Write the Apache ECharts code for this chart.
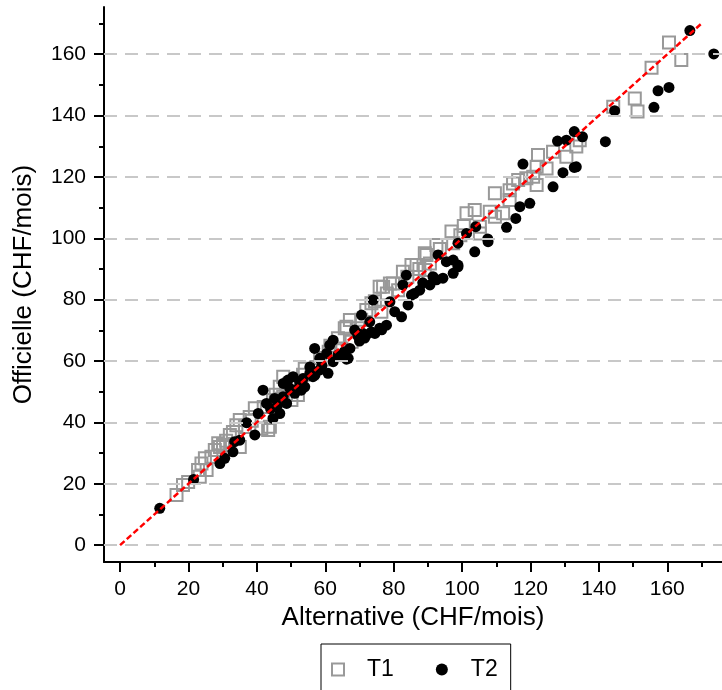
<!DOCTYPE html>
<html>
<head>
<meta charset="utf-8">
<script src="https://cdn.jsdelivr.net/npm/echarts@6/dist/echarts.min.js"></script>
<style>
html,body{margin:0;padding:0;background:#fff;}
#chart{width:722px;height:690px;}
</style>
</head>
<body>
<div id="chart"></div>
<script>
// ---- data ----
const seriesNames = ['T1', 'T2'];
const xTitle = 'Alternative (CHF/mois)';
const yTitle = 'Officielle (CHF/mois)';
const majorTicks = [0, 20, 40, 60, 80, 100, 120, 140, 160];
const minorTicks = [10, 30, 50, 70, 90, 110, 130, 150, 170];
const xRange = [-4.7, 176];
const yRange = [-5.5, 175.4];
const refX = [0, 170];
const refY = [0, 170];

const t1 = [
  [16.5,16.3],[18.4,19.6],[19.9,20.6],[23.3,22.3],[23.8,26.6],[24.8,28.3],[22.8,24.5],[25.3,24.5],
  [27.7,31.0],[28.7,33.2],[26.7,28.8],[30.1,32.6],[32.1,35.9],[33.0,36.9],[35.0,32.0],[34.0,39.1],
  [37.9,41.8],[41.3,38.0],[43.3,37.5],[46.7,51.6],[47.7,54.9],[50.1,47.3],[52.0,48.9],[44.7,47.3],
  [39.4,44.6],[48.6,50.5],[47.7,48.4],[57.4,58.1],[56.0,56.0],[64.7,64.1],[63.7,67.4],[67.7,66.3],
  [65.7,70.7],[69.6,70.7],[67.2,73.4],[72.0,76.6],[76.4,76.1],[73.5,78.8],[81.3,83.1],[76.9,84.2],
  [79.8,85.3],[82.7,89.1],[89.1,89.7],[86.7,91.3],[89.6,94.6],[85.2,91.3],[90.6,91.8],[89.1,95.1],
  [92.5,97.8],[97.4,98.4],[96.9,102.2],[105.2,103.8],[105.2,101.6],[101.3,108.2],[103.7,109.2],
  [108.1,108.7],[109.6,107.0],[113.9,112.5],[109.6,114.7],[113.9,115.7],[116.4,119.0],[118.8,119.6],
  [121.8,117.4],[122.2,127.2],[126.6,128.2],[130.5,126.6],[133.4,129.9],[124.7,122.8],[121.8,123.3],
  [120.8,120.1],[114.9,117.9],[112.0,108.2],[134.4,132.0],[144.2,142.9],[150.5,145.6],[151.3,141.3],
  [155.4,155.6],[160.5,163.8],[164.1,158.1],[66.2,71.2],[75.9,84.2],[78.9,85.3],[43.8,38.6],
  [35.0,40.8],[29.2,32.0],[53.5,55.5],[59.5,60.5],[61.0,63.0],
  [31.0,34.0],[36.5,38.5],[38.5,40.5],[42.0,45.0],[45.5,49.0],[49.5,52.5],[54.0,57.5],[58.5,61.0],
  [61.5,65.0],[70.5,73.5],[74.5,79.5],[78.0,82.0],[84.0,87.5],[87.5,90.0],[93.5,96.5],[99.5,101.0],
  [100.5,104.0]
];

const t2 = [
  [11.6,12.0],[21.5,21.4],[29.2,26.6],[30.6,28.3],[33.0,30.4],[33.5,33.7],[35.0,34.2],[37.0,39.9],
  [39.4,35.9],[40.4,42.9],[41.8,50.5],[42.8,46.2],[44.7,41.3],[45.2,47.8],[46.7,42.9],[48.7,46.2],
  [50.1,50.5],[49.1,53.8],[50.6,54.9],[53.5,54.3],[55.5,56.0],[47.7,48.4],[47.7,52.7],[49.6,51.1],
  [51.1,49.5],[54.0,51.6],[52.5,53.2],[56.4,54.9],[60.8,56.0],[58.4,57.1],[55.5,58.1],[62.3,59.8],
  [66.7,60.9],[63.7,62.0],[58.4,60.9],[60.4,62.5],[56.9,64.1],[61.3,65.2],[62.3,66.8],[67.2,64.1],
  [74.5,69.0],[72.0,68.5],[68.6,70.1],[75.9,70.7],[77.9,71.7],[73.0,72.8],[70.6,75.0],[82.3,74.4],
  [80.3,76.1],[84.2,78.3],[74.0,79.9],[78.9,79.3],[85.2,81.5],[87.6,83.1],[90.6,84.8],[82.7,84.8],
  [83.7,88.0],[94.4,87.0],[97.4,88.6],[98.8,90.7],[98.8,91.3],[95.4,92.4],[97.4,92.9],[93.0,94.6],
  [103.7,95.6],[98.8,98.4],[101.3,101.6],[104.0,103.8],[107.6,98.9],[107.5,99.8],[113.0,103.6],
  [115.7,106.5],[116.9,110.3],[119.8,111.4],[126.6,116.8],[117.8,124.2],[129.5,121.4],[132.8,123.1],
  [133.4,123.3],[127.9,131.7],[130.5,132.0],[135.2,133.1],[132.8,134.8],[141.9,131.5],[144.6,141.6],
  [156.1,142.7],[157.3,148.1],[160.5,149.2],[166.6,167.7],[173.6,160.1],[66.2,60.6],[69.5,68.2],
  [71.0,69.0],[73.5,69.5],[76.5,70.2],
  [44.0,44.5],[46.0,45.5],[52.0,51.0],[53.0,50.5],[57.0,55.5],[59.0,58.5],[64.5,61.5],[65.5,63.0],
  [70.0,66.5],[71.5,67.5],[86.0,82.0],[88.5,85.5],[91.5,87.5],[92.5,86.5]
];

// ---- chart ----
const FONT = '"Liberation Sans", Arial, sans-serif';
const chart = echarts.init(document.getElementById('chart'), null, {renderer: 'canvas'});

function mainAxis(range, name, gap, labelMargin, isY) {
  return {
    type: 'value', min: range[0], max: range[1], gridIndex: 0,
    position: isY ? 'left' : 'bottom',
    name: name, nameLocation: 'middle', nameGap: gap,
    nameTextStyle: {fontFamily: FONT, fontSize: 26, color: '#000'},
    axisLine: {show: true, onZero: false, lineStyle: {color: '#000', width: 2}},
    axisTick: {show: true, length: 10, customValues: majorTicks, lineStyle: {color: '#000', width: 2}},
    axisLabel: {show: true, customValues: majorTicks, margin: labelMargin, fontFamily: FONT, fontSize: 21, color: '#000'},
    splitLine: {show: false}, minorTick: {show: false}
  };
}
function minorAxis(range, isY) {
  return {
    type: 'value', min: range[0], max: range[1], gridIndex: 0,
    position: isY ? 'left' : 'bottom', offset: 0,
    axisLine: {show: false, onZero: false},
    axisTick: {show: true, length: 5, customValues: minorTicks, lineStyle: {color: '#000', width: 2}},
    axisLabel: {show: false},
    splitLine: {show: false}
  };
}

const gridLines = majorTicks.map(v => ({yAxis: v}));

const option = {
  animation: false,
  backgroundColor: '#fff',
  grid: {left: 104, right: 0, top: 7, bottom: 128, containLabel: false, outerBoundsMode: 'none'},
  xAxis: [mainAxis(xRange, xTitle, 37, 17, false), minorAxis(xRange, false)],
  yAxis: [mainAxis(yRange, yTitle, 67, 18, true), minorAxis(yRange, true)],
  legend: {
    data: seriesNames,
    left: 321, top: 644,
    orient: 'horizontal',
    padding: [14, 13, 40, 10],
    borderColor: '#000', borderWidth: 1,
    itemWidth: 12, itemHeight: 12, itemGap: 42,
    textStyle: {fontFamily: FONT, fontSize: 23, color: '#000', padding: [0, 0, 0, 18]}
  },
  series: [
    {
      name: '_grid', type: 'scatter', data: [], silent: true, z: 1,
      markLine: {
        silent: true, symbol: ['none', 'none'], label: {show: false},
        lineStyle: {color: '#c8c8c8', width: 2, type: [13, 8]},
        emphasis: {disabled: true},
        data: gridLines
      }
    },
    {
      name: seriesNames[0], type: 'scatter', data: t1, z: 3,
      symbol: 'rect', symbolSize: 12,
      itemStyle: {color: 'rgba(255,255,255,0)', borderColor: '#999999', borderWidth: 2, opacity: 1}
    },
    {
      name: seriesNames[1], type: 'scatter', data: t2, z: 4,
      symbol: 'circle', symbolSize: 11,
      itemStyle: {color: '#000', opacity: 1}
    },
    {
      name: '_ref', type: 'line', data: refX.map((x, i) => [x, refY[i]]), z: 5,
      showSymbol: false, symbol: 'none', silent: true,
      lineStyle: {color: '#ff0000', width: 2.5, type: [6, 3]}
    }
  ]
};
chart.setOption(option);
</script>
</body>
</html>
